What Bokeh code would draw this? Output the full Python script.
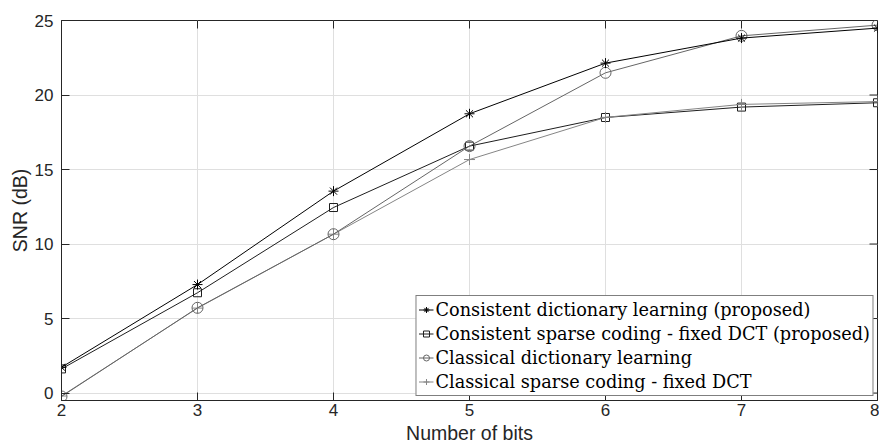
import math
from bokeh.plotting import figure
from bokeh.models import Range1d, FixedTicker, Legend, LegendItem
from bokeh.embed import file_html
from bokeh.resources import INLINE

# ---- data ----
bits = [2, 3, 4, 5, 6, 7, 8]
consistent_dl = [1.73, 7.28, 13.55, 18.74, 22.14, 23.82, 24.49]
consistent_dct = [1.62, 6.73, 12.45, 16.57, 18.49, 19.19, 19.48]
classical_dl = [-0.23, 5.72, 10.66, 16.57, 21.49, 23.97, 24.69]
classical_dct = [-0.20, 5.70, 10.66, 15.67, 18.50, 19.37, 19.56]
series_labels = [
    "Consistent dictionary learning (proposed)",
    "Consistent sparse coding - fixed DCT (proposed)",
    "Classical dictionary learning",
    "Classical sparse coding - fixed DCT",
]
y_ticks = [0, 5, 10, 15, 20, 25]
x_label = "Number of bits"
y_label = "SNR (dB)"

AX = "#262626"
TICK_FONT = "Liberation Sans"
Y_MIN, Y_MAX = -0.5, 25
X_MIN, X_MAX = 2, 8

p = figure(width=879, height=447,
           x_range=Range1d(X_MIN, X_MAX), y_range=Range1d(Y_MIN, Y_MAX),
           output_backend="svg", toolbar_location=None,
           min_border_left=61, min_border_right=2,
           min_border_top=20, min_border_bottom=47)

p.background_fill_color = "white"
p.border_fill_color = "white"
p.outline_line_color = AX
p.outline_line_width = 1

for ax, ticks in ((p.xaxis[0], bits), (p.yaxis[0], y_ticks)):
    ax.ticker = FixedTicker(ticks=ticks)
    ax.axis_line_color = AX
    ax.major_tick_line_color = AX
    ax.major_tick_in = 8
    ax.major_tick_out = 0
    ax.minor_tick_line_color = None
    ax.major_label_text_font = TICK_FONT
    ax.major_label_text_font_size = "17px"
    ax.major_label_text_color = AX
    ax.axis_label_text_font = TICK_FONT
    ax.axis_label_text_font_style = "normal"
    ax.axis_label_text_color = AX
    ax.axis_label_text_font_size = "19.5px"

p.xaxis[0].axis_label = x_label
p.xaxis[0].major_label_standoff = 3
p.xaxis[0].axis_label_standoff = 3
p.yaxis[0].axis_label = y_label
p.yaxis[0].major_label_standoff = 8
p.yaxis[0].axis_label_standoff = 1

# inward ticks on the top and right edges of the box
p.ray(x=bits, y=[Y_MAX] * len(bits), length=8, length_units="screen",
      angle=-math.pi / 2, line_color=AX, line_width=1)
p.ray(x=[X_MAX] * len(y_ticks), y=y_ticks, length=8, length_units="screen",
      angle=math.pi, line_color=AX, line_width=1)

p.xgrid.ticker = FixedTicker(ticks=bits)
p.ygrid.ticker = FixedTicker(ticks=y_ticks)
p.xgrid.grid_line_color = "#dfdfdf"
p.ygrid.grid_line_color = "#dfdfdf"

series = [
    (consistent_dl, "#000000", "asterisk", 10),
    (consistent_dct, "#1e1e1e", "square", 8),
    (classical_dl, "#656565", "circle", 11),
    (classical_dct, "#858585", "cross", 11),
]
draw_order = [1, 3, 2, 0]
rends = {}
for i in draw_order:
    vals, col, mk, sz = series[i]
    lr = p.line(bits, vals, line_color=col, line_width=1)
    sr = p.scatter(bits, vals, marker=mk, size=sz, line_color=col,
                   fill_color=None, line_width=1)
    rends[i] = [lr, sr]

items = [LegendItem(label=series_labels[i], renderers=rends[i]) for i in range(4)]
legend = Legend(items=items, location="bottom_right",
                border_line_color="black", border_line_width=1,
                background_fill_color="white", background_fill_alpha=1.0,
                padding=2, spacing=1, margin=4,
                glyph_width=15, glyph_height=23, label_height=23,
                label_standoff=2,
                label_text_font="DejaVu Serif", label_text_font_size="17.7px",
                label_text_color="black")
p.add_layout(legend)

open("out.html", "w").write(file_html(p, INLINE))
